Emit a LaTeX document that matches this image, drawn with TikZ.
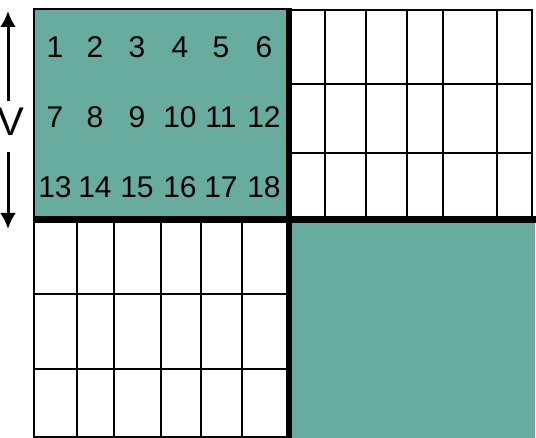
\documentclass[tikz,border=0pt]{standalone}
\usepackage{fontspec}
\setmainfont{Liberation Sans}
\usetikzlibrary{arrows.meta}
\definecolor{teal}{RGB}{104,172,160}
\tikzset{
  num/.style={font=\fontsize{15}{17}\selectfont, inner sep=0pt, anchor=base},
  thin/.style={line width=1pt},
  thick line/.style={line width=3.4pt},
  varrow/.style={line width=1.5pt, -{Latex[length=8pt,width=8pt]}},
}
\begin{document}
\begin{tikzpicture}[x=0.5pt, y=-0.5pt]
\useasboundingbox (0,0) rectangle (536,438);
\coordinate (TL) at (34,9);
\coordinate (M) at (289,219);
\coordinate (BR) at (535,438);

% shaded blocks
\fill[teal] (TL) rectangle (M);
\fill[teal] (M) rectangle (BR);
\draw[thin] (TL) rectangle (M);

% top right grid
\draw[thin] (289,10) rectangle (532,219);
\foreach \x in {325,366,407,443,497}
  \draw[thin] (\x,10) -- (\x,219);
\foreach \y in {84,153}
  \draw[thin] (289,\y) -- (532,\y);

% bottom left grid
\draw[thin] (34,219) rectangle (289,437);
\foreach \x in {77,114,161,201,242}
  \draw[thin] (\x,219) -- (\x,437);
\foreach \y in {294,369}
  \draw[thin] (34,\y) -- (289,\y);

% block borders
\draw[thick line] (289,8) -- (289,438);
\draw[thick line] (34,219.5) -- (536,219.5);

% numbers
\foreach \y [count=\r from 0] in {58,128,198}
  \foreach \x [count=\c] in {55,95,137,180,221,264} {
    \pgfmathtruncatemacro{\num}{6*\r+\c}
    \node[num] (n\num) at (\x,\y) {\num};
  }

% V arrow
\node[font=\fontsize{20}{22}\selectfont, inner sep=0pt, anchor=base] (V) at (11,136) {V};
\coordinate (vtop) at (8,101);
\coordinate (vbot) at (8,152);
\coordinate (atop) at (8,11);
\coordinate (abot) at (8,229);
\draw[varrow] (vtop) -- (atop);
\draw[varrow] (vbot) -- (abot);
\end{tikzpicture}
\end{document}
